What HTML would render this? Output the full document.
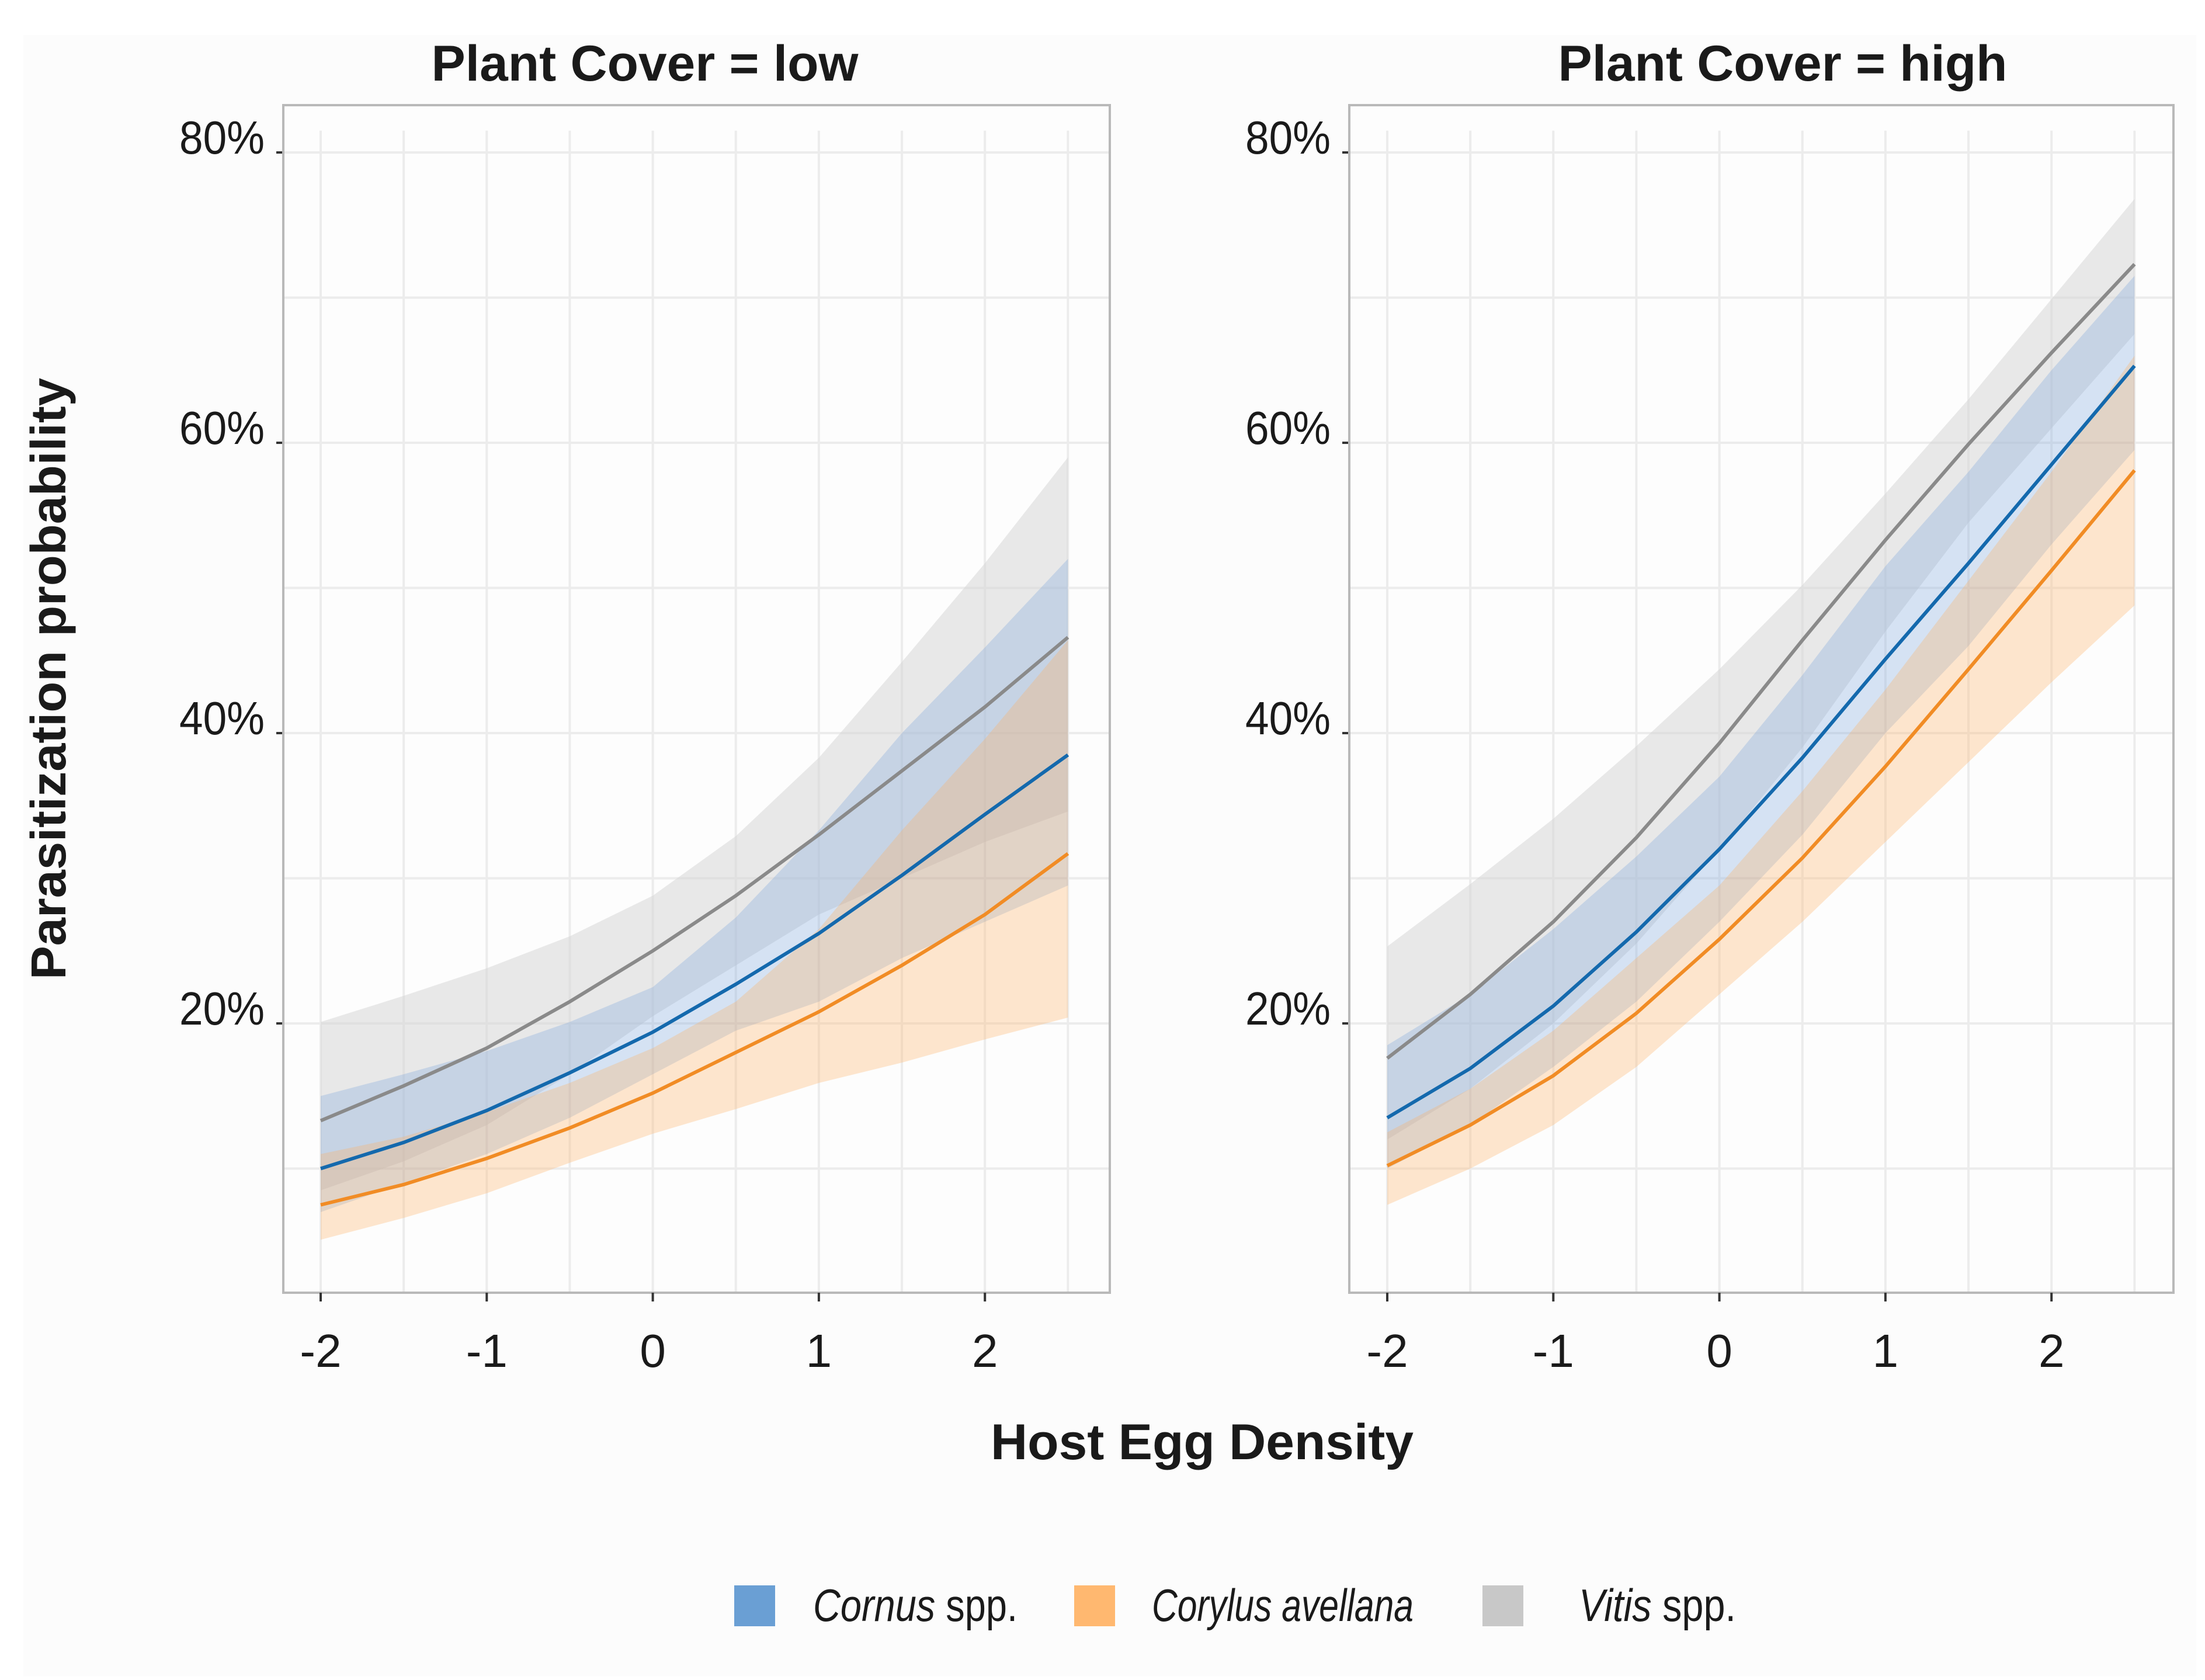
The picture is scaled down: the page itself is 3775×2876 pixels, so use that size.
<!DOCTYPE html>
<html><head><meta charset="utf-8">
<style>
html,body{margin:0;padding:0;background:#fff;}
svg{display:block;}
text{font-family:"Liberation Sans Narrow","Liberation Sans",sans-serif;fill:#1a1a1a;}
</style></head>
<body>
<svg id="chart" width="3775" height="2876" viewBox="0 0 3775 2876" xmlns="http://www.w3.org/2000/svg">
<rect x="40" y="60" width="3720" height="2810" fill="#fcfcfc"/>
<g id="panels"></g>
<text x="1104" y="138" font-size="86" font-weight="bold" text-anchor="middle" textLength="731" lengthAdjust="spacingAndGlyphs">Plant Cover = low</text>
<text x="3052" y="138" font-size="86" font-weight="bold" text-anchor="middle" textLength="769" lengthAdjust="spacingAndGlyphs">Plant Cover = high</text>
<text transform="translate(112,1162) rotate(-90)" font-size="84" font-weight="bold" text-anchor="middle" textLength="1030" lengthAdjust="spacingAndGlyphs">Parasitization probability</text>
<text x="2058" y="2498" font-size="86" font-weight="bold" text-anchor="middle" textLength="724" lengthAdjust="spacingAndGlyphs">Host Egg Density</text>
<g>
<rect x="1257" y="2714" width="70" height="70" fill="#6a9fd4"/>
<text x="1392" y="2775" font-size="78" textLength="350" lengthAdjust="spacingAndGlyphs"><tspan font-style="italic">Cornus</tspan> spp.</text>
<rect x="1839" y="2714" width="70" height="70" fill="#ffb870"/>
<text x="1972" y="2775" font-size="78" font-style="italic" textLength="448" lengthAdjust="spacingAndGlyphs">Corylus avellana</text>
<rect x="2538" y="2714" width="70" height="70" fill="#c8c8c8"/>
<text x="2703" y="2775" font-size="78" textLength="269" lengthAdjust="spacingAndGlyphs"><tspan font-style="italic">Vitis</tspan> spp.</text>
</g>
</svg>
<script>
const xValues = [-2,-1.5,-1,-0.5,0,0.5,1,1.5,2,2.5];
const xTicks = [-2,-1,0,1,2];
const xTickLabels = ["-2","-1","0","1","2"];
const yTicks = [20,40,60,80];
const yTickLabels = ["20%","40%","60%","80%"];
const seriesNames = ["vitis","cornus","corylus"];

const lowVitisFit = [13.3,15.7,18.3,21.5,25.0,28.8,33.0,37.4,41.8,46.6];
const lowVitisUpper = [20.1,21.9,23.8,26.0,28.8,32.9,38.3,44.9,51.7,59.0];
const lowVitisLower = [8.5,10.5,13.0,16.5,20.5,24.0,27.5,30.0,32.5,34.6];
const lowCornusFit = [10.0,11.8,14.0,16.6,19.4,22.7,26.2,30.2,34.4,38.5];
const lowCornusUpper = [15.0,16.5,18.1,20.1,22.5,27.3,33.3,40.0,45.9,52.0];
const lowCornusLower = [7.0,9.0,11.0,13.5,16.5,19.5,21.5,24.5,27.0,29.5];
const lowCorylusFit = [7.5,8.9,10.7,12.8,15.2,18.0,20.8,24.0,27.5,31.7];
const lowCorylusUpper = [11.0,12.2,13.9,15.9,18.3,21.5,26.5,33.3,39.6,46.4];
const lowCorylusLower = [5.1,6.6,8.3,10.4,12.4,14.1,15.9,17.3,18.9,20.4];

const highVitisFit = [17.6,22.0,27.0,32.8,39.3,46.4,53.3,59.9,66.2,72.3];
const highVitisUpper = [25.3,29.6,34.1,39.1,44.4,50.2,56.5,63.0,69.9,76.8];
const highVitisLower = [12.0,15.5,20.0,25.5,32.0,39.0,47.0,54.5,61.0,67.5];
const highCornusFit = [13.5,16.9,21.2,26.3,32.0,38.3,45.1,51.7,58.5,65.3];
const highCornusUpper = [18.5,22.0,26.5,31.5,37.0,44.0,51.5,58.0,65.0,71.5];
const highCornusLower = [10.0,13.0,17.0,21.5,27.0,33.0,40.0,46.0,53.0,59.5];
const highCorylusFit = [10.2,13.0,16.4,20.7,25.8,31.4,37.7,44.4,51.2,58.1];
const highCorylusUpper = [12.5,15.5,19.5,24.5,29.5,36.0,43.0,50.5,58.0,66.0];
const highCorylusLower = [7.5,10.0,13.0,17.0,22.0,27.0,32.5,38.0,43.5,48.8];

const NS = "http://www.w3.org/2000/svg";
const root = document.getElementById("panels");
function mk(tag, attrs, parent){
  const e = document.createElementNS(NS, tag);
  for (const k in attrs) e.setAttribute(k, attrs[k]);
  parent.appendChild(e);
  return e;
}
const bandFill = {vitis:"#d4d4d4", cornus:"#6f9fdc", corylus:"#ffb060"};
const bandOpacity = {vitis:0.5, cornus:0.28, corylus:0.3};
const lineColor = {vitis:"#8a8a8a", cornus:"#1469ad", corylus:"#f18c25"};

function yScale(p){ return 2249 - 24.85*p; }

function drawPanel(key, frameLeft, frameRight, x0, data){
  const xScale = v => x0 + 284.3*(v+2);
  const g = mk("g", {}, root);
  
  
  const bg = mk("rect", {x:frameLeft, y:180, width:frameRight-frameLeft, height:2213-180, fill:"#fdfdfd"}, g);
  
  
  for (let p=10; p<=80; p+=10){
    const gl = mk("line", {x1:frameLeft, x2:frameRight, y1:yScale(p), y2:yScale(p), stroke:"#ececec", "stroke-width":4}, g);
    
    
  }
  xValues.forEach(v=>{
    const gl = mk("line", {x1:xScale(v), x2:xScale(v), y1:yScale(81.5), y2:2213, stroke:"#ececec", "stroke-width":4}, g);
    
    
  });
  seriesNames.forEach(s=>{
    const up = data[s].upper, lo = data[s].lower;
    let d = "";
    xValues.forEach((v,i)=>{ d += (i? "L":"M") + xScale(v) + "," + yScale(up[i]); });
    for (let i=xValues.length-1;i>=0;i--) d += "L" + xScale(xValues[i]) + "," + yScale(lo[i]);
    const band = mk("path", {d:d+"Z", fill:bandFill[s], "fill-opacity":bandOpacity[s]}, g);
    
    
  });
  seriesNames.forEach(s=>{
    const pts = xValues.map((v,i)=> xScale(v)+","+yScale(data[s].fit[i])).join(" ");
    const ln = mk("polyline", {points:pts, fill:"none", stroke:lineColor[s], "stroke-width":6}, g);
    
    
  });
  const fr = mk("rect", {x:frameLeft, y:180, width:frameRight-frameLeft, height:2213-180, fill:"none", stroke:"#b9b9b9", "stroke-width":4}, g);
  
  
  xTicks.forEach((v,i)=>{
    const t = mk("line", {x1:xScale(v), x2:xScale(v), y1:2213, y2:2228, stroke:"#333", "stroke-width":4}, g);
    
    
    const lb = mk("text", {x:xScale(v), y:2340, "font-size":80, "text-anchor":"middle"}, g);
    lb.textContent = xTickLabels[i];
    
    
  });
  yTicks.forEach((p,i)=>{
    const t = mk("line", {x1:frameLeft-12, x2:frameLeft-2, y1:yScale(p), y2:yScale(p), stroke:"#333", "stroke-width":4}, g);
    
    
    const lb = mk("text", {x:frameLeft-32, y:yScale(p)+2, "font-size":80, "text-anchor":"end", textLength:146, lengthAdjust:"spacingAndGlyphs"}, g);
    lb.textContent = yTickLabels[i];
    
    
  });
}

drawPanel("low", 485, 1900, 549, {
  vitis:{fit:lowVitisFit, upper:lowVitisUpper, lower:lowVitisLower},
  cornus:{fit:lowCornusFit, upper:lowCornusUpper, lower:lowCornusLower},
  corylus:{fit:lowCorylusFit, upper:lowCorylusUpper, lower:lowCorylusLower}
});
drawPanel("high", 2310, 3721, 2375, {
  vitis:{fit:highVitisFit, upper:highVitisUpper, lower:highVitisLower},
  cornus:{fit:highCornusFit, upper:highCornusUpper, lower:highCornusLower},
  corylus:{fit:highCorylusFit, upper:highCorylusUpper, lower:highCorylusLower}
});
</script>
</body></html>
